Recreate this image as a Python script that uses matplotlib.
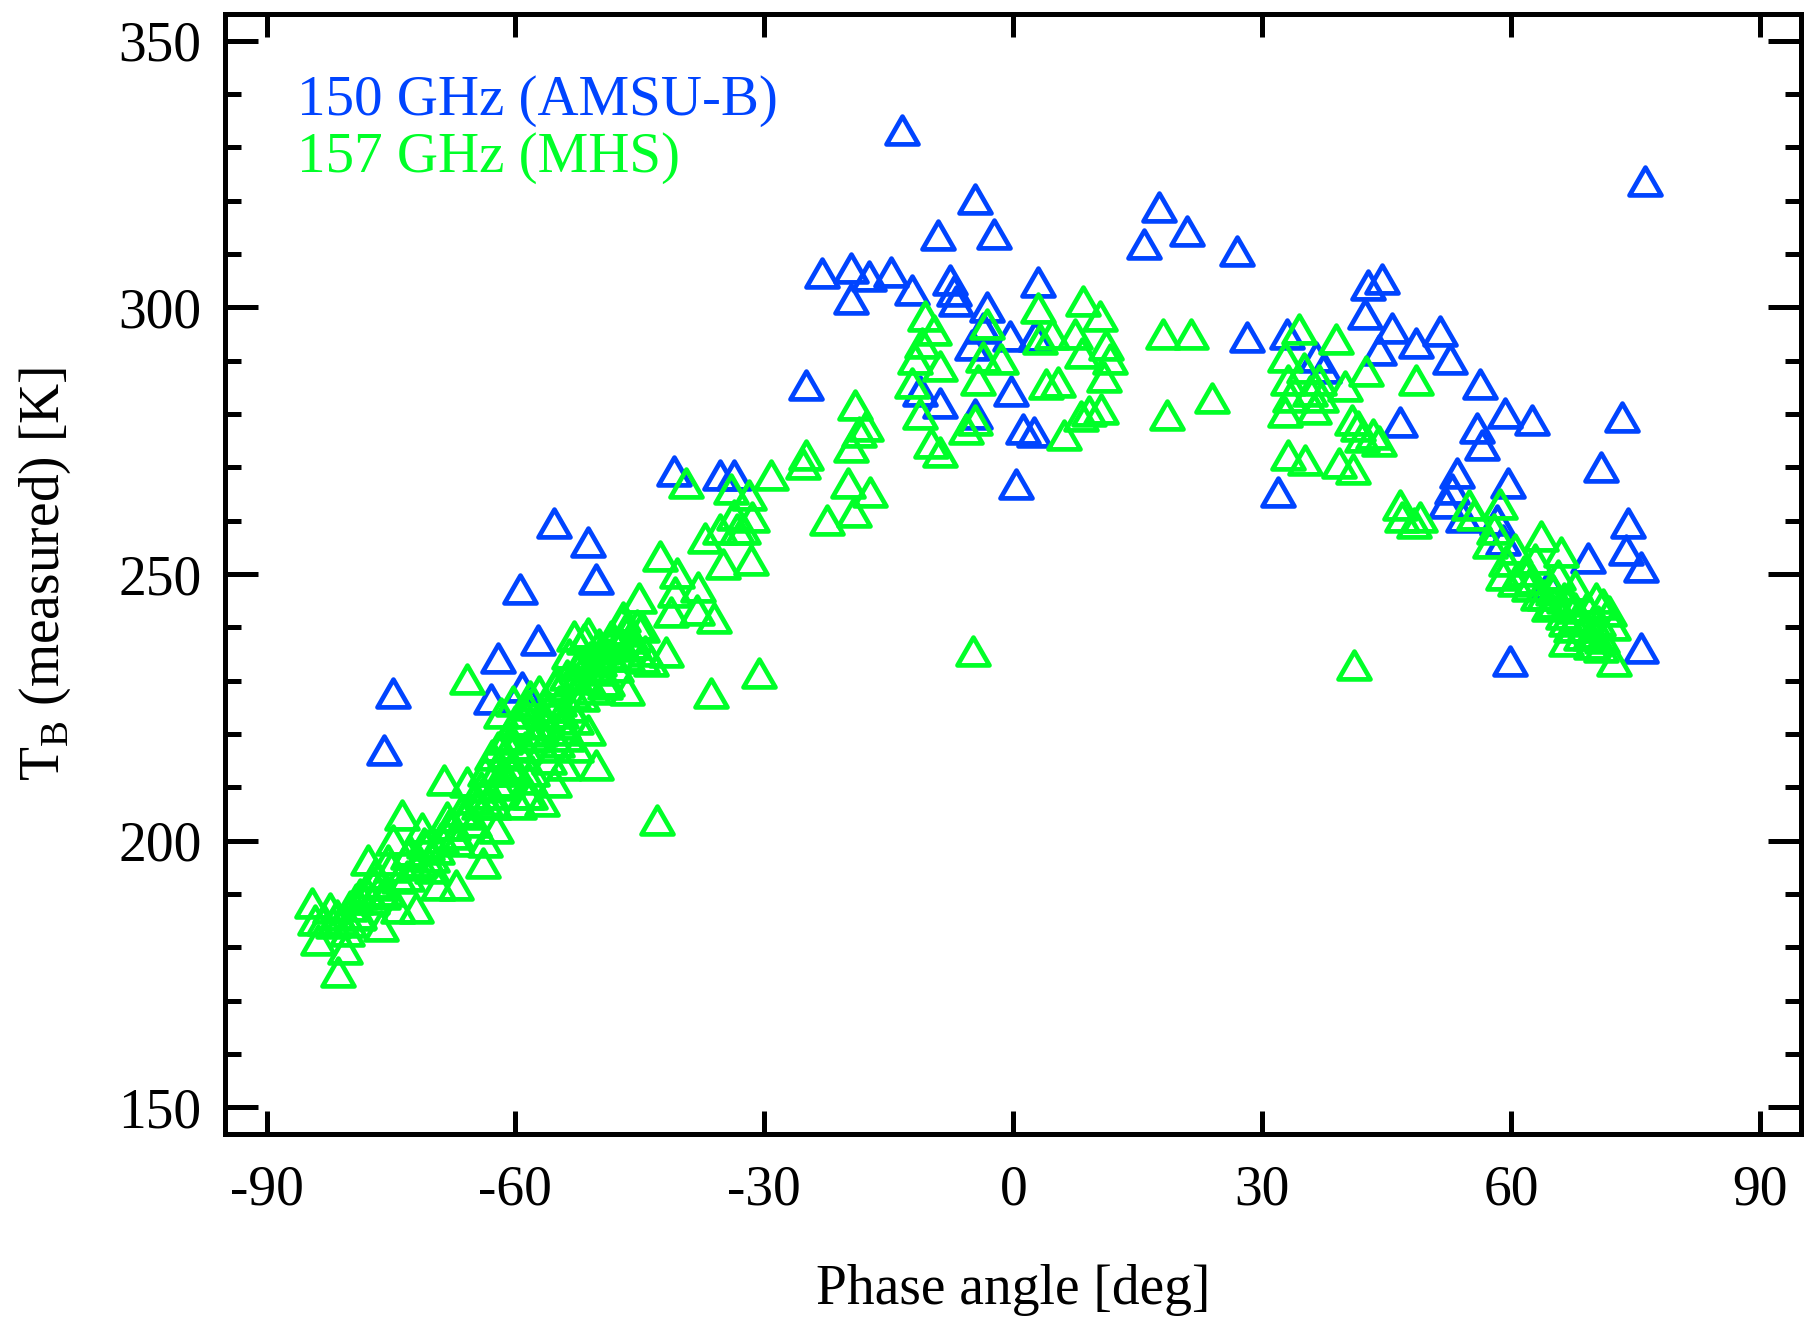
import numpy as np
import matplotlib
matplotlib.use("Agg")
import matplotlib.pyplot as plt
from matplotlib.path import Path
from matplotlib.ticker import MultipleLocator

# ---- AMSU-B 150 GHz ----
amsu_phase = [-13.4, -4.6, -9.1, -2.3, 15.8, 17.6, 21.0, 27.0, 76.2,
              -23.1, -19.5, -19.6, -17.4, -14.7, -12.2, -7.6, -7.2, -6.9, -3.2, 3.0,
              -8.8, -4.6, -0.4, 2.6, -0.3, 0.3, 1.2, 2.5, -5.0, -3.6, -11.2,
              -25.0, -40.9, -35.4, -33.7, -55.4, -51.2, -50.3, -59.4, -57.3,
              -62.1, -63.0, -59.2, -74.7, -75.8,
              28.2, 33.0, 36.5, 37.5, 42.7, 44.5, 42.4, 44.1, 45.7, 48.5, 51.4, 52.6,
              46.6, 56.3, 59.3, 55.9, 56.5, 62.5, 73.4, 70.8, 31.9, 53.5, 52.9, 52.1,
              59.6, 54.2, 58.3, 59.0, 74.1, 73.8, 75.6, 69.3, 64.6, 59.9, 75.6]
amsu_tb = [333.2, 320.3, 313.6, 313.8, 311.9, 318.8, 314.4, 310.6, 323.7,
           306.5, 307.3, 301.5, 305.8, 306.7, 303.2, 305.2, 303.0, 301.1, 300.0, 304.7,
           282.1, 280.0, 294.6, 294.6, 284.3, 266.8, 277.2, 276.7, 292.9, 296.1, 284.3,
           285.4, 269.4, 268.5, 268.5, 259.5, 256.0, 249.1, 247.2, 237.7,
           234.3, 226.5, 228.9, 227.6, 217.0,
           294.4, 295.0, 290.7, 288.6, 304.1, 305.4, 298.7, 292.0, 296.1, 293.3, 295.5, 290.3,
           278.5, 285.6, 280.2, 277.4, 274.1, 278.9, 279.5, 270.0, 265.3, 269.0, 266.0, 263.4,
           267.0, 260.6, 260.1, 256.3, 259.5, 254.5, 251.3, 253.0, 248.1, 233.6, 236.2]

# ---- MHS 157 GHz ----
mhs_phase = [-12.2, -11.0, -10.6, -11.8, -9.6, -8.8, -11.2, -9.9, -8.8, -5.7, -4.6, -4.3,
             -3.2, -3.6, -1.5, 3.0, 3.2, 4.7, 4.0, 5.4, 6.1, 7.5, 8.3, 8.4, 10.4, 9.1,
             10.6, 11.2, 11.7, 10.9, 8.2, 18.5, 18.1, 21.4, 23.9, -4.8, 41.1,
             32.8, 33.1, 33.3, 32.8, 34.4, 35.0, 35.8, 36.2, 36.9, 37.1, 33.1, 35.2, 38.9,
             40.0, 42.5, 40.8, 41.6, 42.0, 43.4, 44.1, 39.3, 41.0, 48.5, 46.6, 46.9, 49.0,
             48.3, 54.9, 55.5, 58.7, 58.0, 57.5, 59.4, 60.5, 59.0, 60.5, 63.6, 62.9, 62.2,
             63.3, 64.6, 66.0, 65.6, 66.4, 66.6, 67.7, 67.7, 68.4, 69.1, 70.2, 70.5, 71.1,
             71.8, 72.3, 70.8, 72.4, 69.6, 66.6,
             -19.1, -19.6, -18.6, -17.8, -19.9, -19.2, -17.3, -22.5, -25.0, -25.4, -29.2,
             -31.9, -31.5, -32.6, -31.6, -30.6, -36.4, -34.0, -33.7, -33.3, -39.5, -37.2,
             -35.4, -35.0, -36.1, -38.0, -38.1, -40.5, -40.8, -41.2, -42.6, -41.9, -42.9,
             -45.1, -44.7, -46.1, -46.5, -47.2, -48.5, -49.9, -51.7, -52.7, -52.0, -50.3,
             -53.4, -54.3, -55.0, -56.0, -56.8, -57.5, -58.2, -58.9, -58.6, -59.6, -60.3,
             -61.0, -61.7, -62.1, -62.6, -63.7, -64.0, -65.1, -66.5, -65.8, -63.9, -67.2,
             -68.2, -68.6, -70.6, -70.0, -71.3, -72.7, -73.1, -73.7, -74.8, -75.3, -76.2,
             -76.9, -77.3, -77.8, -78.7, -78.9, -79.9, -80.3, -81.0, -81.4, -82.4, -83.1,
             -83.8, -84.5, -84.2, -80.6, -76.2, -74.1, -72.0, -69.3, -67.2, -63.7, -62.3,
             -56.8, -55.4, -54.1, -52.7, -51.3, -50.6, -49.2, -47.9, -46.5, -44.7, -43.7,
             -44.4, -61.0, -60.3, -58.9, -58.0, -56.8, -55.7, -54.7, -53.8, -52.7, -52.0,
             -50.6, -49.9, -48.5, -47.4, -46.5, -45.8, -51.3, -53.0, -65.8, -64.4, -63.0,
             -62.3, -61.2, -59.6, -58.2,
             # dense band along the left branch
             -82.0, -81.5, -80.0, -79.2, -78.0, -77.0, -76.0, -75.0, -74.0, -73.0, -72.0,
             -71.0, -70.0, -69.0, -68.0, -67.0, -66.0, -65.0, -64.2, -63.5, -62.8, -62.0,
             -61.3, -60.6, -60.0, -59.3, -58.6, -57.9, -57.2, -56.5, -55.9, -55.2, -54.5,
             -53.8, -53.1, -52.4, -51.7, -51.0, -50.3, -49.6, -48.9, -48.2, -47.5, -46.8,
             -46.0, -45.3, -61.5, -60.1, -58.4, -57.0, -55.0, -53.5, -49.0, -47.0,
             -71.5, -69.5, -67.5, -75.5, -79.0,
             # dense band on the right branch
             64.0, 65.2, 66.3, 67.2, 68.0, 68.8, 69.5, 70.0, 71.0, 67.0, 65.0, 61.5, 62.5]
mhs_tb = [285.8, 293.3, 298.3, 290.3, 295.7, 289.0, 280.0, 274.6, 272.8, 277.2, 278.9, 286.4,
          296.8, 290.7, 290.3, 299.8, 294.0, 295.0, 285.6, 286.0, 276.1, 295.0, 291.4, 301.1,
          298.3, 280.6, 281.0, 292.9, 290.3, 286.9, 279.6, 279.8, 295.0, 295.0, 283.0, 235.6,
          233.0,
          290.7, 286.4, 283.2, 280.4, 295.9, 288.6, 284.3, 281.0, 286.4, 283.2, 272.4, 271.3,
          294.0, 285.2, 288.1, 278.9, 277.8, 275.6, 276.3, 275.0, 270.9, 269.6, 286.4, 262.9,
          260.6, 260.6, 259.6, 262.9, 261.1, 263.2, 258.5, 255.9, 252.4, 254.6, 249.8, 248.7,
          257.1, 252.8, 247.8, 246.1, 244.0, 254.1, 249.8, 245.5, 241.2, 247.8, 243.7, 238.6,
          243.8, 245.5, 241.2, 244.3, 243.1, 240.5, 236.4, 233.6, 236.9, 237.4,
          281.7, 273.9, 276.7, 277.8, 267.0, 261.6, 265.3, 260.1, 272.3, 270.6, 268.5,
          264.9, 260.6, 258.4, 252.6, 231.5, 227.6, 266.0, 261.0, 258.4, 267.0, 256.7,
          258.4, 251.9, 241.8, 247.6, 243.3, 250.2, 246.6, 242.9, 253.4, 235.3, 203.9,
          245.5, 240.1, 236.9, 228.2, 241.2, 238.4, 233.6, 237.9, 230.4, 227.2, 214.2,
          225.0, 221.8, 218.5, 215.3, 223.9, 219.6, 227.2, 217.5, 208.8, 221.8, 214.2,
          211.0, 223.9, 217.5, 206.8, 213.1, 208.8, 207.8, 205.6, 230.4, 195.9, 201.3,
          204.5, 211.4, 199.1, 194.8, 202.3, 198.0, 193.3, 204.9, 200.1, 196.3, 191.6,
          193.8, 189.1, 196.3, 190.0, 186.2, 187.7, 183.0, 185.2, 175.4, 187.3, 185.2,
          181.3, 188.4, 185.2, 179.7, 184.0, 187.3, 187.3, 191.6, 191.6, 199.8, 202.3,
          207.5, 211.0, 214.2, 217.5, 220.8, 228.4, 229.4, 232.6, 234.7, 234.3, 233.6,
          235.6, 219.6, 226.1, 223.9, 213.1, 217.5, 220.7, 226.1, 219.6, 222.9, 233.6,
          232.5, 236.9, 234.7, 237.3, 239.4, 236.9, 239.0, 238.4, 211.0, 206.8, 208.8,
          213.1, 216.4, 206.8, 208.8,
          184.5, 186.0, 184.8, 189.0, 190.5, 192.0, 190.0, 195.0, 193.0, 197.5, 195.5,
          199.5, 197.0, 200.5, 203.0, 200.0, 205.0, 203.5, 210.0, 207.0, 216.0, 210.5,
          219.0, 213.5, 222.5, 216.0, 225.5, 219.5, 228.0, 222.0, 225.0, 229.0, 224.0,
          231.0, 227.5, 233.0, 230.5, 234.5, 232.0, 236.0, 235.0, 238.0, 236.5, 239.5,
          238.0, 240.5, 213.0, 218.0, 211.5, 220.5, 230.0, 235.0, 230.0, 242.0,
          196.0, 198.5, 203.0, 190.5, 186.0,
          246.0, 244.5, 242.5, 240.0, 242.0, 240.0, 238.5, 239.0, 238.0, 245.0, 247.0,
          250.5, 249.0]

blue = "#0044ff"
green = "#00ff28"

plt.rcParams["font.family"] = ["Liberation Serif", "DejaVu Serif"]
plt.rcParams["mathtext.fontset"] = "custom"
plt.rcParams["mathtext.rm"] = "Liberation Serif"
plt.rcParams["axes.unicode_minus"] = False

# open triangle symbol, centred on its box
tri = Path([(-1, -0.87), (1, -0.87), (0, 0.87), (-1, -0.87)], closed=True)

fig = plt.figure(figsize=(18.06, 13.22), dpi=100)
ax = fig.add_axes([0.1246, 0.1422, 0.8729, 0.8472])

ax.plot(amsu_phase, amsu_tb, linestyle="none", marker=tri, ms=23,
        mfc="none", mec=blue, mew=3.4)
ax.plot(mhs_phase, mhs_tb, linestyle="none", marker=tri, ms=23,
        mfc="none", mec=green, mew=3.4)

ax.set_xlim(-95, 95)
ax.set_ylim(145, 355)
ax.xaxis.set_major_locator(MultipleLocator(30))
ax.yaxis.set_major_locator(MultipleLocator(50))
ax.yaxis.set_minor_locator(MultipleLocator(10))

for s in ax.spines.values():
    s.set_linewidth(3.6)

ax.tick_params(axis="both", which="both", direction="in", top=True, right=True,
               width=3.6, labelsize=40)
ax.tick_params(axis="x", which="major", length=16.5, pad=22)
ax.tick_params(axis="y", which="major", length=24, pad=17)
ax.tick_params(axis="y", which="minor", length=11.5)

ax.set_xlabel("Phase angle [deg]", fontsize=40, va="center")
ax.xaxis.set_label_coords(0.5, -0.139)
ax.set_ylabel(r"T$_\mathrm{B}$ (measured) [K]", fontsize=40, va="center")
ax.yaxis.set_label_coords(-0.114, 0.5)

ax.text(0.0457, 0.910, "150 GHz (AMSU-B)", color=blue, fontsize=41,
        transform=ax.transAxes, va="baseline")
ax.text(0.0457, 0.859, "157 GHz (MHS)", color=green, fontsize=41,
        transform=ax.transAxes, va="baseline")

fig.savefig("out.png", dpi=100)
